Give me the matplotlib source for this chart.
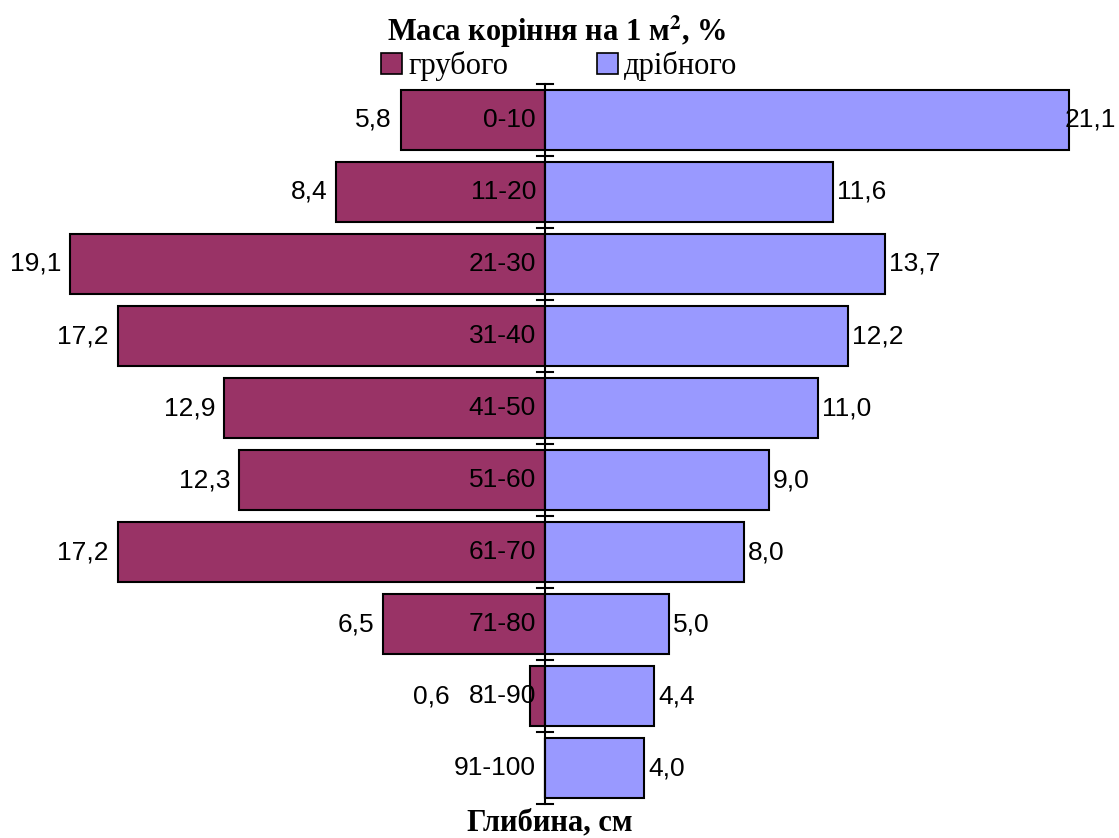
import matplotlib
matplotlib.use("Agg")
import matplotlib.pyplot as plt
from matplotlib.patches import Patch

# depth layers (top to bottom) and root mass shares, %
depths = ["0-10", "11-20", "21-30", "31-40", "41-50",
          "51-60", "61-70", "71-80", "81-90", "91-100"]
coarse = [5.8, 8.4, 19.1, 17.2, 12.9, 12.3, 17.2, 6.5, 0.6, 0.0]
fine = [21.1, 11.6, 13.7, 12.2, 11.0, 9.0, 8.0, 5.0, 4.4, 4.0]

COARSE_COLOR = "#993366"
FINE_COLOR = "#9999FF"

plt.rcParams["mathtext.fontset"] = "stix"
SANS = "Liberation Sans"
SERIF = "Liberation Serif"

W, H = 1119, 838
fig = plt.figure(figsize=(W / 100, H / 100), dpi=100)
ax = fig.add_axes([0, 0, 1, 1])

px = 24.85          # pixels per percent
x0 = 545            # centre axis in pixels
xmax = (W - x0) / px
ax.set_xlim(-x0 / px, xmax)
row = 72            # pixels per row
y0 = 120            # centre of first row in pixels
ax.set_ylim((H - y0) / row, -y0 / row)
ax.axis("off")

ys = list(range(len(depths)))
ax.barh(ys, [-v for v in coarse], height=60 / row, color=COARSE_COLOR,
        edgecolor="black", linewidth=1.5, zorder=2)
ax.barh(ys, fine, height=60 / row, color=FINE_COLOR,
        edgecolor="black", linewidth=1.5, zorder=2)

# centre axis with tick marks between rows
ax.plot([0, 0], [-0.5, len(depths) - 0.5], color="black", lw=1.5, zorder=3)
tick = 8 / px
for k in range(len(depths) + 1):
    ax.plot([-tick, tick], [k - 0.5, k - 0.5], color="black", lw=1.5, zorder=3)

fs = 19
for y, c, f, d in zip(ys, coarse, fine, depths):
    ax.text(-9 / px, y, d, ha="right", va="center", fontsize=fs,
            family=SANS, zorder=4)
    if c > 0:
        # small bars: keep the value clear of the depth label
        xl = min(-c - 9 / px, -95 / px)
        ax.text(xl, y, f"{c:.1f}".replace(".", ","), ha="right",
                va="center", fontsize=fs, family=SANS)
    lab = f"{f:.1f}".replace(".", ",")
    if f + 52 / px > xmax:
        # would run off the right edge: pull it back inside
        ax.text(xmax - 3 / px, y, lab, ha="right", va="center",
                fontsize=fs, family=SANS, zorder=4)
    else:
        ax.text(f + 4 / px, y, lab, ha="left", va="center",
                fontsize=fs, family=SANS)

fig.text(557 / W, 1 - 32 / H, r"Маса коріння на 1 м$^{\mathbf{2}}$, %",
         ha="center", va="center", fontsize=22, fontweight="bold",
         family=SERIF)
fig.text(550 / W, 1 - 823 / H, "Глибина, см", ha="center", va="center",
         fontsize=22, fontweight="bold", family=SERIF)

handles = [Patch(facecolor=COARSE_COLOR, edgecolor="black", lw=1.2),
           Patch(facecolor=FINE_COLOR, edgecolor="black", lw=1.2)]
fig.legend(handles, ["грубого", "дрібного"], loc="center",
           bbox_to_anchor=(559 / W, 1 - 66 / H), ncol=2, frameon=False,
           handlelength=0.7, handleheight=0.7, handletextpad=0.2,
           columnspacing=2.9, prop={"family": SERIF, "size": 22})

fig.savefig("out.png", dpi=100)
